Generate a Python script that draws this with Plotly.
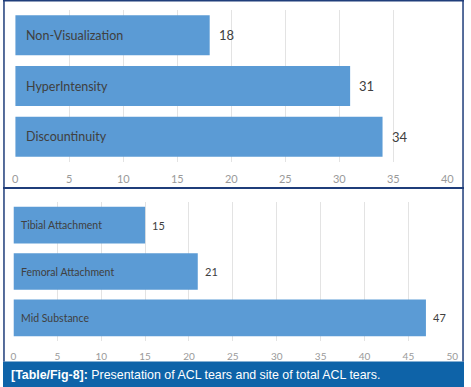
import plotly.graph_objects as go

# Data
top_categories = ["Non-Visualization", "HyperIntensity", "Discountinuity"]
top_values = [18, 31, 34]
top_ticks = [0, 5, 10, 15, 20, 25, 30, 35, 40]

bottom_categories = ["Tibial Attachment", "Femoral Attachment", "Mid Substance"]
bottom_values = [15, 21, 47]
bottom_ticks = [0, 5, 10, 15, 20, 25, 30, 35, 40, 45, 50]

caption_bold = "[Table/Fig-8]:"
caption_rest = " Presentation of ACL tears and site of total ACL tears."

W, H = 471, 387
BAR = "#5b9bd5"
TXT = "#404040"
TICK = "#9a9a9a"
GRID = "#e3e3e3"
FRAME = "#1f3d7a"
BAND = "#0e63a8"
LABEL_FONT = "Lato, Carlito, Calibri, sans-serif"

def px_x(p):
    return p / W

def px_y(p):
    return 1 - p / H

fig = go.Figure()
fig.add_trace(go.Bar(x=top_values, y=top_categories, orientation="h",
                     marker=dict(color=BAR, line=dict(width=0)),
                     xaxis="x", yaxis="y", hoverinfo="skip"))
fig.add_trace(go.Bar(x=bottom_values, y=bottom_categories, orientation="h",
                     marker=dict(color=BAR, line=dict(width=0)),
                     xaxis="x2", yaxis="y2", hoverinfo="skip"))

annotations = []
for c, v in zip(top_categories, top_values):
    annotations.append(dict(x=0, y=c, xref="x", yref="y", text=c, showarrow=False,
                            xanchor="left", xshift=9,
                            font=dict(family=LABEL_FONT, size=12.5, color=TXT)))
    annotations.append(dict(x=v, y=c, xref="x", yref="y", text=str(v), showarrow=False,
                            xanchor="left", xshift=7,
                            font=dict(family=LABEL_FONT, size=13, color=TXT)))
for c, v in zip(bottom_categories, bottom_values):
    annotations.append(dict(x=0, y=c, xref="x2", yref="y2", text=c, showarrow=False,
                            xanchor="left", xshift=6,
                            font=dict(family=LABEL_FONT, size=10.5, color=TXT)))
    annotations.append(dict(x=v, y=c, xref="x2", yref="y2", text=str(v), showarrow=False,
                            xanchor="left", xshift=5,
                            font=dict(family=LABEL_FONT, size=11, color=TXT)))

annotations.append(dict(x=px_x(6), y=px_y(374.5), xref="paper", yref="paper",
                        xanchor="left", yanchor="middle", showarrow=False,
                        text="<b>" + caption_bold + "</b>" + caption_rest,
                        font=dict(family="Liberation Sans, Arial, sans-serif", size=12.4, color="white")))

shapes = [
    dict(type="rect", xref="paper", yref="paper", x0=0, x1=1, y0=0, y1=px_y(361.5),
         fillcolor=BAND, line=dict(width=0), layer="above"),
    dict(type="line", xref="paper", yref="paper", x0=px_x(1), x1=px_x(1), y0=px_y(361.5), y1=1,
         line=dict(color=FRAME, width=1.5)),
    dict(type="line", xref="paper", yref="paper", x0=px_x(470), x1=px_x(470), y0=px_y(361.5), y1=1,
         line=dict(color=FRAME, width=1.5)),
    dict(type="line", xref="paper", yref="paper", x0=0, x1=1, y0=px_y(0.75), y1=px_y(0.75),
         line=dict(color=FRAME, width=1.5)),
    dict(type="line", xref="paper", yref="paper", x0=0, x1=1, y0=px_y(188), y1=px_y(188),
         line=dict(color=FRAME, width=2)),
]

fig.update_layout(
    width=W, height=H,
    margin=dict(l=0, r=0, t=0, b=0),
    paper_bgcolor="white", plot_bgcolor="white",
    showlegend=False,
    bargap=0.21,
    annotations=annotations,
    shapes=shapes,
    xaxis=dict(domain=[px_x(12.5), px_x(454)], range=[0, 40], tickvals=top_ticks,
               showgrid=True, gridcolor=GRID, gridwidth=1, zeroline=False,
               showline=False, ticks="outside", ticklen=7, tickcolor="rgba(0,0,0,0)",
               tickfont=dict(family=LABEL_FONT, size=11, color=TICK), anchor="y", fixedrange=True),
    yaxis=dict(domain=[px_y(162), px_y(10)], autorange="reversed", showticklabels=False,
               showgrid=False, zeroline=False, showline=False, anchor="x", fixedrange=True),
    xaxis2=dict(domain=[px_x(10.7), px_x(459)], range=[0, 50], tickvals=bottom_ticks,
                showgrid=True, gridcolor=GRID, gridwidth=1, zeroline=False,
                showline=False, ticks="outside", ticklen=6, tickcolor="rgba(0,0,0,0)",
                tickfont=dict(family=LABEL_FONT, size=10, color=TICK), anchor="y2", fixedrange=True),
    yaxis2=dict(domain=[px_y(341), px_y(202)], autorange="reversed", showticklabels=False,
                showgrid=False, zeroline=False, showline=False, anchor="x2", fixedrange=True),
)

fig.write_html("out.html", config={"displayModeBar": False})

# remove default browser body margin so the figure sits at the page origin
with open("out.html", "r", encoding="utf-8") as f:
    html = f.read()
html = html.replace("<head>", "<head><style>html,body{margin:0;padding:0;overflow:hidden;}</style>", 1)
with open("out.html", "w", encoding="utf-8") as f:
    f.write(html)
